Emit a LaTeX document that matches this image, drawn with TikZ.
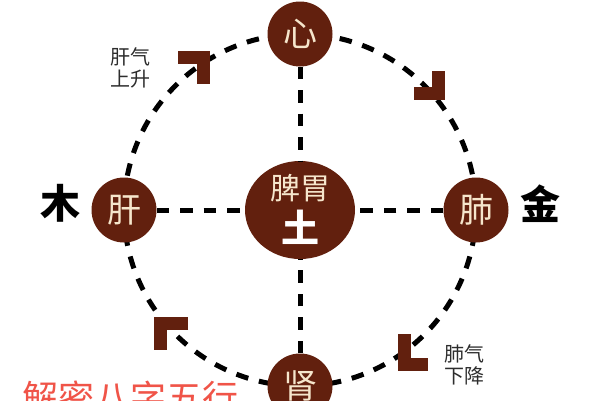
\documentclass[tikz,border=0pt]{standalone}
\usepackage{fontspec}
\newfontfamily\cjk{Noto Sans CJK SC}
\usetikzlibrary{shapes.geometric}
\definecolor{brn}{RGB}{98,32,14}
\definecolor{cream}{RGB}{246,230,204}
\definecolor{redt}{RGB}{240,84,72}
\definecolor{lbl}{RGB}{45,45,45}
\tikzset{
  dashline/.style={draw=black, line width=5pt, dash pattern=on 12.5pt off 11pt},
  organ/.style={circle, fill=brn, minimum size=65pt, inner sep=0pt, text=cream, font=\cjk\fontsize{34}{34}\selectfont},
  hub/.style={ellipse, fill=brn, minimum width=110pt, minimum height=98pt, inner sep=0pt},
  chev/.style={draw=brn, line width=13pt, line cap=butt, miter limit=10},
  lab/.style={align=center, text=lbl, font=\cjk\fontsize{20}{22}\selectfont, inner sep=0pt},
  elem/.style={text=black, font=\cjk\bfseries\fontsize{40}{40}\selectfont, inner sep=0pt}
}
\begin{document}
\begin{tikzpicture}[x=1pt,y=-1pt]
\useasboundingbox[fill=white] (0,0) rectangle (600,400);
\coordinate (c) at (300,210);
\draw[dashline] (c) circle[radius=176];
\node[hub] (pw) at (c) {};
\node[organ] (xin) at (300,34) {心};
\node[organ] (gan) at (124,210) {肝};
\node[organ] (fei) at (476,210) {肺};
\node[organ] (shen) at (300,386) {肾};
\draw[dashline] (xin) -- (pw);
\draw[dashline] (gan) -- (pw);
\draw[dashline] (fei) -- (pw);
\draw[dashline] (shen) -- (pw);
\node[text=cream, font=\cjk\fontsize{30}{30}\selectfont, inner sep=0pt] (piwei) at (300,188) {脾胃};
\node[text=white, font=\cjk\bfseries\fontsize{38}{38}\selectfont, inner sep=0pt] (tu) at (300,227) {土};
\node[elem] (mu) at (60,203) {木};
\node[elem] (jin) at (540,204) {金};
\node[lab] (l1) at (130,68) {肝气\\上升};
\node[lab] (l2) at (464,365) {肺气\\下降};
\draw[chev] (178,57.5) -- (203.5,57.5) -- (203.5,84);
\draw[chev] (438.5,71) -- (438.5,93.5) -- (414,93.5);
\draw[chev] (188,323.5) -- (160.5,323.5) -- (160.5,350);
\draw[chev] (404.5,334) -- (404.5,364.5) -- (428,364.5);
\node[anchor=west, text=redt, font=\cjk\fontsize{36}{36}\selectfont, inner sep=0pt] (title) at (22,398) {解密八字五行};
\end{tikzpicture}
\end{document}
